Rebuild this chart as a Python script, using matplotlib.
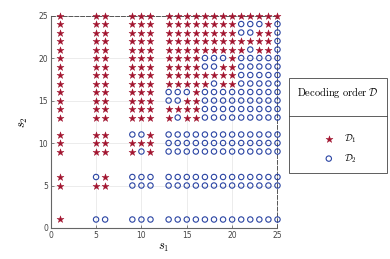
import numpy as np
import matplotlib.pyplot as plt
from matplotlib.lines import Line2D

plt.rcParams['mathtext.fontset'] = 'cm'

## Data: decoding order for each (s1, s2) pair
s1_vals = [1, 5, 6, 9, 10, 11, 13, 14, 15, 16, 17, 18, 19, 20, 21, 22, 23, 24, 25]
s2_vals = [25, 24, 23, 22, 21, 20, 19, 18, 17, 16, 15, 14, 13, 11, 10, 9, 6, 5, 1]

# 'x' -> D1 (star), 'o' -> D2 (circle); one string per s2 row, columns follow s1_vals
order_rows = [
    "xxxxxx" + "xxxxxxxxxxxxx",   # 25
    "xxxxxx" + "xxxxxxxxoooxo",   # 24
    "xxxxxx" + "xxxxxxxxooxxo",   # 23
    "xxxxxx" + "xxxxxxxxxxxxo",   # 22
    "xxxxxx" + "xxxxxxxxxoxxo",   # 21
    "xxxxxx" + "xxxxoooxooooo",   # 20
    "xxxxxx" + "xxxxooxxooooo",   # 19
    "xxxxxx" + "xxxxxxxxooooo",   # 18
    "xxxxxx" + "xxxxxoxxooooo",   # 17
    "xxxxxx" + "oooxooooooooo",   # 16
    "xxxxxx" + "ooxxooooooooo",   # 15
    "xxxxxx" + "xxxxooooooooo",   # 14
    "xxxxxx" + "xoxxooooooooo",   # 13
    "xxxoox" + "ooooooooooooo",   # 11
    "xxxxxx" + "ooooooooooooo",   # 10
    "xxxxox" + "ooooooooooooo",   # 9
    "xoxooo" + "ooooooooooooo",   # 6
    "xxxooo" + "ooooooooooooo",   # 5
    "xooooo" + "ooooooooooooo",   # 1
]

d1_s1, d1_s2, d2_s1, d2_s2 = [], [], [], []
for s2, row in zip(s2_vals, order_rows):
    for s1, c in zip(s1_vals, row):
        if c == 'x':
            d1_s1.append(s1)
            d1_s2.append(s2)
        else:
            d2_s1.append(s1)
            d2_s2.append(s2)

red = '#A2142F'
blue = '#2A44A3'

fig = plt.figure(figsize=(3.9, 2.59), dpi=100)
ax = fig.add_axes([0.130, 0.1197, 0.5815, 0.8203])

h1 = ax.scatter(d1_s1, d1_s2, marker='*', s=28, c=red, edgecolors=red, linewidths=0.3,
                label=r'$\mathcal{D}_1$', zorder=3, clip_on=False)
h2 = ax.scatter(d2_s1, d2_s2, marker='o', s=15, facecolors='none', edgecolors=blue,
                linewidths=0.8, label=r'$\mathcal{D}_2$', zorder=3, clip_on=False)

ax.set_xlim(0, 25)
ax.set_ylim(0, 25)
ax.set_xticks(np.arange(0, 26, 5))
ax.set_yticks(np.arange(0, 26, 5))
ax.grid(True, color='#e4e4e4', lw=0.5)
ax.set_axisbelow(True)
ax.tick_params(direction='in', length=2, width=0.5, labelsize=5.5,
               colors='#555555', labelcolor='#444444', pad=2)
for side in ['left', 'bottom']:
    ax.spines[side].set_color('#666666')
    ax.spines[side].set_linewidth(0.8)
for side in ['top', 'right']:
    ax.spines[side].set_color('#555555')
    ax.spines[side].set_linewidth(0.7)
    ax.spines[side].set_linestyle((0, (4, 2)))

ax.set_xlabel(r'$s_1$', fontsize=9, labelpad=1)
ax.set_ylabel(r'$s_2$', fontsize=9, labelpad=6)

# legend with a separator under the title
leg = fig.legend(handles=[h1, h2], title=r'$\mathrm{Decoding\ order}\ \mathcal{D}$',
                 loc='upper left', bbox_to_anchor=(289/390, 1 - 78/259),
                 fancybox=False, edgecolor='#444444', framealpha=1, fontsize=7,
                 title_fontsize=7.5, borderpad=0.85, labelspacing=0.75,
                 handletextpad=0.6, borderaxespad=0, scatterpoints=1)
leg.get_frame().set_linewidth(0.6)
leg._legend_box.sep = 23

fig.canvas.draw()
fb = leg.get_frame().get_window_extent()
tb = leg.get_title().get_window_extent()
eb = leg.get_texts()[0].get_window_extent()
y_line = (tb.y0 + eb.y1) / 2
inv = fig.transFigure.inverted()
(x0, y0), (x1, y1) = inv.transform([(fb.x0, y_line), (fb.x1, y_line)])
fig.add_artist(Line2D([x0, x1], [y0, y1], transform=fig.transFigure,
                      color='#444444', lw=0.6, zorder=10))

fig.savefig('out.png', dpi=100)
